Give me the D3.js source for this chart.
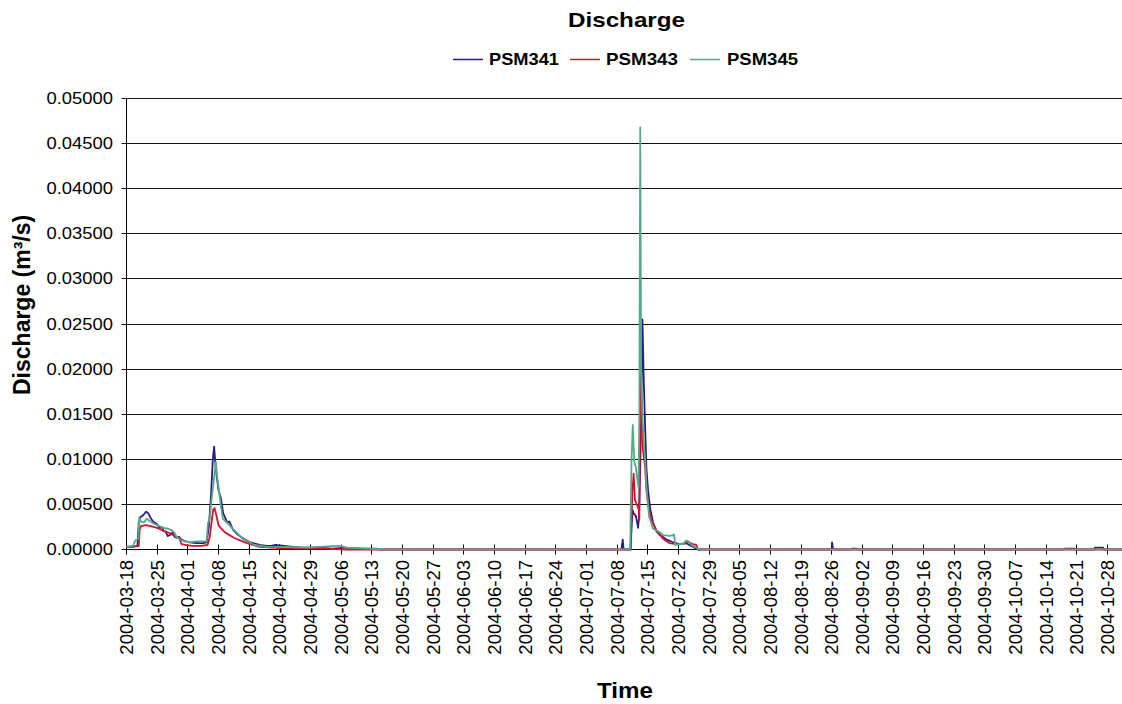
<!DOCTYPE html>
<html>
<head>
<meta charset="utf-8">
<script src="https://cdn.jsdelivr.net/npm/d3@7"></script>
<style>
  body { margin: 0; background: #fff; }
  svg { display: block; font-family: "Liberation Sans", Arial, Helvetica, sans-serif; }
</style>
</head>
<body>
<svg id="chart" width="1122" height="704"></svg>
<script>
// Discharge time series for three gauges (m³/s), timestamps as "MM-DDTHH" in 2004
const seriesNames = ["PSM341", "PSM343", "PSM345"];
const seriesColors = ["#2b1b86", "#d3122b", "#57a888"];

const psm341 = [
  ["03-18T00",0.0003],["03-19T12",0.0003],["03-20T12",0.0004],["03-20T19",0.0030],["03-21T05",0.0036],
  ["03-21T19",0.0038],["03-22T12",0.0042],["03-23T00",0.0040],["03-23T12",0.0035],["03-24T02",0.0031],
  ["03-25T00",0.0028],["03-25T14",0.0024],["03-26T02",0.0025],["03-26T10",0.0021],["03-27T00",0.0019],
  ["03-27T10",0.0015],["03-27T22",0.0016],["03-28T12",0.0019],["03-29T00",0.0014],["03-29T10",0.0013],
  ["03-30T00",0.0014],["03-30T12",0.0011],["03-31T12",0.0009],["04-01T10",0.0008],
  ["04-03T00",0.0007],["04-04T12",0.0007],["04-05T07",0.0008],["04-05T19",0.0025],["04-06T07",0.0060],
  ["04-06T17",0.0100],["04-07T00",0.0114],["04-07T07",0.0095],["04-07T14",0.0082],["04-08T00",0.0066],
  ["04-08T12",0.0058],["04-09T02",0.0040],["04-10T00",0.0030],["04-10T12",0.0031],["04-11T07",0.0022],
  ["04-12T12",0.0016],["04-14T00",0.0011],["04-15T05",0.0008],["04-17T10",0.0005],["04-19T00",0.0004],
  ["04-20T00",0.0004],["04-21T00",0.0005],["04-23T00",0.0004],["04-25T00",0.0003],["04-27T00",0.0002],
  ["05-01T00",0.0002],["05-04T00",0.0001],["05-07T00",0.0002],["05-11T00",0.0001],["05-14T00",0.0001],
  ["05-15T00",0],
  ["07-09T00",0],["07-09T07",0.0011],["07-09T12",0],["07-11T02",0],["07-11T12",0.0044],
  ["07-11T19",0.0040],["07-12T07",0.0037],["07-12T14",0.0030],["07-12T19",0.0024],["07-13T00",0.0035],
  ["07-13T10",0.0120],["07-13T19",0.0255],["07-14T02",0.0190],["07-14T10",0.0135],["07-14T17",0.0090],
  ["07-15T02",0.0065],["07-15T14",0.0045],["07-16T05",0.0030],["07-17T00",0.0020],["07-17T19",0.0016],
  ["07-19T07",0.0011],["07-20T19",0.0008],["07-22T07",0.0006],["07-23T19",0.0007],["07-25T07",0.0003],
  ["07-26T02",0.0001],["07-26T12",0],["08-26T00",0],["08-26T02",0.0008],["08-26T07",0.0001],
  ["08-26T14",0],["08-30T12",0],["08-30T14",0.0001],["08-31T17",0.0001],["08-31T19",0],
  ["10-18T00",0],["10-18T05",0.0001],["10-20T12",0.0001],["10-20T14",0],["10-25T00",0],
  ["10-25T02",0.0002],["10-27T00",0.0002],["10-27T02",0],["11-01T00",0]
];

const psm343 = [
  ["03-18T00",0.0003],["03-20T19",0.0004],["03-21T00",0.0022],["03-21T07",0.0026],["03-22T12",0.0027],
  ["03-23T12",0.0026],["03-25T00",0.0024],["03-26T10",0.0021],["03-27T22",0.0018],["03-29T10",0.0014],
  ["03-30T00",0.0013],["03-30T14",0.0006],["03-31T12",0.0005],["04-02T00",0.0004],["04-04T00",0.0004],
  ["04-05T12",0.0005],["04-06T00",0.0014],["04-06T10",0.0030],["04-06T19",0.0044],["04-07T02",0.0046],
  ["04-07T12",0.0038],["04-08T00",0.0027],["04-08T12",0.0024],["04-09T12",0.0019],["04-11T12",0.0013],
  ["04-13T12",0.0009],["04-15T05",0.0006],["04-17T10",0.0003],["04-20T00",0.0002],["04-25T00",0.0001],
  ["05-02T00",0.0001],["05-07T00",0],
  ["07-11T02",0],["07-11T12",0.0064],["07-11T19",0.0084],["07-12T02",0.0055],["07-12T12",0.0050],
  ["07-12T22",0.0045],["07-13T02",0.0033],["07-13T07",0.0194],["07-13T14",0.0150],["07-13T22",0.0110],
  ["07-14T10",0.0091],["07-14T17",0.0065],["07-15T02",0.0050],["07-15T19",0.0033],["07-17T00",0.0021],
  ["07-18T12",0.0012],["07-20T00",0.0007],["07-21T14",0.0006],["07-23T02",0.0006],["07-24T05",0.0009],
  ["07-24T19",0.0007],["07-25T07",0.0006],["07-26T02",0.0005],["07-26T12",0],["11-01T00",0]
];

const psm345 = [
  ["03-18T00",0.0003],["03-19T12",0.0004],["03-20T00",0.0010],["03-20T17",0.0012],["03-20T22",0.0036],
  ["03-21T07",0.0031],["03-22T00",0.0030],["03-22T14",0.0034],["03-23T05",0.0032],["03-24T02",0.0029],
  ["03-25T12",0.0026],["03-26T10",0.0024],["03-27T12",0.0023],["03-28T12",0.0021],["03-29T00",0.0018],
  ["03-29T10",0.0014],["03-30T12",0.0010],["04-01T10",0.0008],["04-03T00",0.0009],["04-05T07",0.0009],
  ["04-05T14",0.0029],["04-06T00",0.0034],["04-06T10",0.0055],["04-07T00",0.0080],["04-07T10",0.0097],
  ["04-07T17",0.0080],["04-08T00",0.0070],["04-08T12",0.0050],["04-09T00",0.0034],["04-10T12",0.0027],
  ["04-11T07",0.0023],["04-13T12",0.0012],["04-16T05",0.0005],["04-19T00",0.0003],["04-23T00",0.0003],
  ["04-28T00",0.0002],["05-05T00",0.0004],["05-06T00",0.0004],["05-07T00",0.0002],["05-12T00",0.0001],
  ["05-17T00",0],
  ["07-11T00",0],["07-11T07",0.0098],["07-11T14",0.0138],["07-11T22",0.0098],["07-12T07",0.0091],
  ["07-12T17",0.0075],["07-12T22",0.0069],["07-13T02",0.0150],["07-13T07",0.0468],["07-13T12",0.0200],
  ["07-13T19",0.0150],["07-14T02",0.0120],["07-14T10",0.0100],["07-14T17",0.0070],["07-15T07",0.0037],
  ["07-16T05",0.0023],["07-17T12",0.0020],["07-18T12",0.0016],["07-20T00",0.0015],["07-20T19",0.0016],
  ["07-21T00",0.0017],["07-21T07",0.0005],["07-22T07",0.0006],["07-23T02",0.0006],["07-23T19",0.0010],
  ["07-24T12",0.0008],["07-25T07",0.0004],["07-26T19",0],["11-01T00",0]
];

const yTickValues = [0, 0.005, 0.01, 0.015, 0.02, 0.025, 0.03, 0.035, 0.04, 0.045, 0.05];
const xTickLabels = [
  "2004-03-18","2004-03-25","2004-04-01","2004-04-08","2004-04-15","2004-04-22","2004-04-29",
  "2004-05-06","2004-05-13","2004-05-20","2004-05-27","2004-06-03","2004-06-10","2004-06-17",
  "2004-06-24","2004-07-01","2004-07-08","2004-07-15","2004-07-22","2004-07-29","2004-08-05",
  "2004-08-12","2004-08-19","2004-08-26","2004-09-02","2004-09-09","2004-09-16","2004-09-23",
  "2004-09-30","2004-10-07","2004-10-14","2004-10-21","2004-10-28"
];

const svg = d3.select("#chart");
const W = 1122;
const parseTime = d3.timeParse("%Y-%m-%dT%H");
const parseDay = d3.timeParse("%Y-%m-%d");

const x = d3.scaleTime()
  .domain([parseDay("2004-03-18"), parseDay("2004-10-28")])
  .range([126.5, 126.5 + 224 * 4.38]);
const y = d3.scaleLinear().domain([0, 0.05]).range([549.5, 98.5]);

const plotLeft = x.range()[0];

// horizontal gridlines with short outside ticks
const grid = svg.append("g");
yTickValues.forEach(v => {
  const yy = Math.round(y(v) - 0.5) + 0.5;
  grid.append("line")
    .attr("x1", plotLeft - 5).attr("x2", W)
    .attr("y1", yy).attr("y2", yy)
    .attr("stroke", "#111").attr("stroke-width", 1);
  grid.append("text")
    .attr("x", 113).attr("y", yy)
    .attr("dy", "0.36em")
    .attr("text-anchor", "end")
    .attr("font-size", 16.5)
    .attr("textLength", 66.5).attr("lengthAdjust", "spacingAndGlyphs")
    .attr("fill", "#000")
    .text(d3.format(".5f")(v));
});

// y axis line
svg.append("line")
  .attr("x1", plotLeft).attr("x2", plotLeft)
  .attr("y1", y(0.05)).attr("y2", y(0) + 5)
  .attr("stroke", "#000").attr("stroke-width", 1);

// x axis baseline and crossing tick marks
const y0 = Math.round(y(0) - 0.5) + 0.5;
svg.append("line")
  .attr("x1", plotLeft).attr("x2", W)
  .attr("y1", y0).attr("y2", y0)
  .attr("stroke", "#000").attr("stroke-width", 1);

const xt = svg.append("g");
xTickLabels.forEach(lbl => {
  const xx = Math.round(x(parseDay(lbl)) - 0.5) + 0.5;
  xt.append("line")
    .attr("x1", xx).attr("x2", xx)
    .attr("y1", y0 - 5).attr("y2", y0 + 5)
    .attr("stroke", "#000").attr("stroke-width", 1);
  xt.append("text")
    .attr("transform", `translate(${xx},560) rotate(-90)`)
    .attr("dy", "0.36em")
    .attr("text-anchor", "end")
    .attr("font-size", 18.5)
    .attr("fill", "#000")
    .text(lbl);
});

// series lines, drawn over the axes
const line = d3.line()
  .x(d => x(parseTime("2004-" + d[0])))
  .y(d => y(d[1]));

const seriesData = [psm341, psm343, psm345];
seriesData.forEach((data, i) => {
  svg.append("path")
    .datum(data)
    .attr("d", line)
    .attr("fill", "none")
    .attr("stroke", seriesColors[i])
    .attr("stroke-width", 1.8)
    .attr("stroke-linejoin", "round");
});

// title
svg.append("text")
  .attr("x", 626.5).attr("y", 27)
  .attr("text-anchor", "middle")
  .attr("font-size", 21).attr("font-weight", "bold")
  .attr("textLength", 117).attr("lengthAdjust", "spacingAndGlyphs")
  .text("Discharge");

// legend
const legendItems = [
  { lx: 453, tx: 489, tw: 70 },
  { lx: 570, tx: 606, tw: 72 },
  { lx: 690, tx: 727, tw: 71 }
];
const legend = svg.append("g");
seriesNames.forEach((name, i) => {
  const it = legendItems[i];
  legend.append("line")
    .attr("x1", it.lx).attr("x2", it.lx + 30)
    .attr("y1", 59.5).attr("y2", 59.5)
    .attr("stroke", seriesColors[i]).attr("stroke-width", 1.5);
  legend.append("text")
    .attr("x", it.tx).attr("y", 65)
    .attr("font-size", 16.3).attr("font-weight", "bold")
    .attr("textLength", it.tw).attr("lengthAdjust", "spacingAndGlyphs")
    .text(name);
});

// axis titles
svg.append("text")
  .attr("transform", "translate(30,395) rotate(-90)")
  .attr("text-anchor", "start")
  .attr("font-size", 23).attr("font-weight", "bold")
  .text("Discharge (m³/s)");

svg.append("text")
  .attr("x", 625).attr("y", 698)
  .attr("text-anchor", "middle")
  .attr("font-size", 22).attr("font-weight", "bold")
  .attr("textLength", 56).attr("lengthAdjust", "spacingAndGlyphs")
  .text("Time");
</script>
</body>
</html>
